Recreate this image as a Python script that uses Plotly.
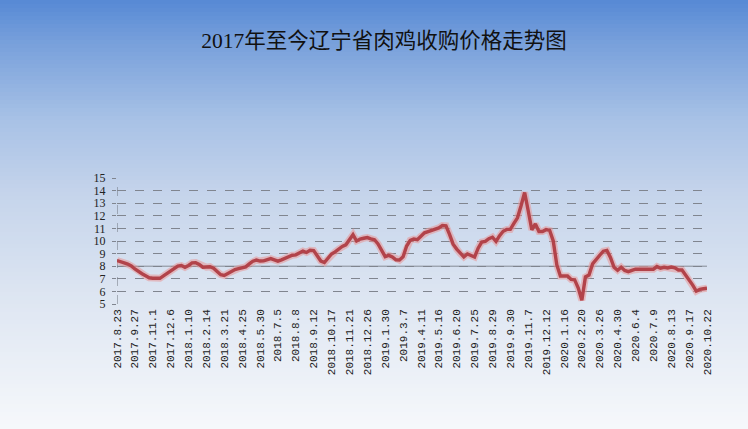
import plotly.graph_objects as go

# ---------------- data ----------------
title_text = "2017年至今辽宁省肉鸡收购价格走势图"

tick_labels = [
    "2017.8.23", "2017.9.27", "2017.11.1", "2017.12.6", "2018.1.10", "2018.2.14",
    "2018.3.21", "2018.4.25", "2018.5.30", "2018.7.5", "2018.8.8", "2018.9.12",
    "2018.10.17", "2018.11.21", "2018.12.26", "2019.1.30", "2019.3.7", "2019.4.11",
    "2019.5.16", "2019.6.20", "2019.7.25", "2019.8.29", "2019.9.30", "2019.11.7",
    "2019.12.12", "2020.1.16", "2020.2.20", "2020.3.26", "2020.4.30", "2020.6.4",
    "2020.7.9", "2020.8.13", "2020.9.17", "2020.10.22",
]
label_step = 5  # one label every 5 weekly observations

prices = [
    8.45, 8.38, 8.27, 8.17, 8.02, 7.78, 7.56, 7.40, 7.24, 7.08,
    7.04, 7.04, 7.04, 7.23, 7.43, 7.63, 7.83, 8.00, 8.05, 7.91,
    8.06, 8.26, 8.28, 8.14, 7.92, 7.92, 7.96, 7.84, 7.57, 7.33,
    7.26, 7.44, 7.61, 7.74, 7.81, 7.88, 7.95, 8.18, 8.40, 8.49,
    8.41, 8.42, 8.51, 8.60, 8.50, 8.40, 8.50, 8.64, 8.76, 8.87,
    8.90, 9.03, 9.20, 9.09, 9.26, 9.24, 8.87, 8.41, 8.29, 8.64,
    8.97, 9.14, 9.36, 9.57, 9.70, 10.10, 10.50, 10.00, 10.15, 10.22,
    10.27, 10.17, 10.10, 9.77, 9.32, 8.76, 8.86, 8.74, 8.50, 8.49,
    8.74, 9.60, 10.05, 10.15, 10.10, 10.37, 10.65, 10.75, 10.84, 10.91,
    11.04, 11.23, 11.20, 10.52, 9.75, 9.36, 9.01, 8.74, 8.97, 8.87,
    8.73, 9.43, 9.91, 9.97, 10.18, 10.30, 9.97, 10.42, 10.77, 10.92,
    10.92, 11.39, 11.84, 12.80, 13.85, 12.40, 10.89, 11.36, 10.75, 10.75,
    10.90, 10.84, 10.00, 8.10, 7.22, 7.22, 7.22, 6.95, 6.91, 6.27,
    5.30, 7.15, 7.30, 8.18, 8.56, 8.87, 9.19, 9.25, 8.70, 7.92,
    7.68, 7.92, 7.66, 7.57, 7.67, 7.76, 7.76, 7.76, 7.76, 7.76,
    7.76, 7.97, 7.84, 7.91, 7.86, 7.93, 7.87, 7.70, 7.70, 7.31,
    6.93, 6.50, 6.02, 6.16, 6.21, 6.25,
]

y_ticks = [5, 6, 7, 8, 9, 10, 11, 12, 13, 14, 15]

# ---------------- figure ----------------
W, H = 748, 429
ML, MR, MT, MB = 117, 41, 178, 125
PW, PH = W - ML - MR, H - MT - MB

x_idx = list(range(len(prices)))
tick_pos = [i * label_step for i in range(len(tick_labels))]

fig = go.Figure()

# soft glow under the line
fig.add_trace(go.Scatter(
    x=x_idx, y=prices, mode="lines",
    line=dict(color="rgba(232,150,150,0.55)", width=7),
    hoverinfo="skip", showlegend=False,
))
fig.add_trace(go.Scatter(
    x=x_idx, y=prices, mode="lines",
    line=dict(color="#b2434a", width=3.4),
    showlegend=False,
))

# background vertical gradient over the whole figure (blue top -> near white bottom)
stops = [
    (0.00, (86, 137, 213)),
    (0.10, (120, 160, 219)),
    (0.28, (168, 194, 230)),
    (0.45, (197, 212, 235)),
    (0.70, (222, 230, 242)),
    (1.00, (246, 248, 251)),
]

def grad_color(t):
    for (t0, c0), (t1, c1) in zip(stops[:-1], stops[1:]):
        if t0 <= t <= t1:
            f = (t - t0) / (t1 - t0) if t1 > t0 else 0
            c = [round(a + (b - a) * f) for a, b in zip(c0, c1)]
            return "rgb(%d,%d,%d)" % tuple(c)
    return "rgb(%d,%d,%d)" % stops[-1][1]

def py_to_paper(py):  # figure pixel (from top) -> paper y
    return (H - MB - py) / PH

x_left = -ML / PW - 0.01
x_right = 1 + MR / PW + 0.01

shapes = []
band = 4
for k in range(0, H, band):
    t = (k + band / 2) / H
    shapes.append(dict(
        type="rect", xref="paper", yref="paper", layer="below",
        x0=x_left, x1=x_right,
        y0=py_to_paper(k + band + 0.6), y1=py_to_paper(k),
        line=dict(width=0), fillcolor=grad_color(t),
    ))

# Solid reference line at 8 and dashed vertical value axis
shapes.append(dict(type="line", xref="x", yref="y", x0=0, x1=len(prices) - 1,
                   y0=8, y1=8, line=dict(color="#858a94", width=1), layer="below"))
shapes.append(dict(type="line", xref="x", yref="y", x0=0, x1=0, y0=5, y1=15,
                   line=dict(color="#6f747e", width=1, dash="dash"), layer="below"))

fig.update_layout(
    width=W, height=H,
    margin=dict(l=ML, r=MR, t=MT, b=MB),
    paper_bgcolor="white",
    plot_bgcolor="rgba(0,0,0,0)",
    shapes=shapes,
    title=dict(
        text=title_text,
        x=384 / W, xanchor="center",
        y=1 - 40 / H, yanchor="middle",
        xref="container", yref="container",
        font=dict(family="Liberation Serif, Noto Sans CJK SC", size=21.5, color="#111111"),
    ),
    xaxis=dict(
        range=[0, len(prices) - 1],
        tickmode="array", tickvals=tick_pos, ticktext=tick_labels,
        tickangle=-90,
        tickfont=dict(family="Liberation Mono, DejaVu Sans Mono", size=11, color="#222222"),
        showgrid=False, zeroline=False, showline=False, ticks="",
        ticklabelstandoff=2,
    ),
    yaxis=dict(
        range=[5, 15],
        tickmode="array", tickvals=y_ticks,
        tickfont=dict(family="Liberation Serif, DejaVu Serif", size=12, color="#222222"),
        showgrid=True, gridcolor="#80858f", gridwidth=1, griddash="dash",
        zeroline=False, showline=False,
        ticks="outside", ticklen=4, tickcolor="#80858f",
        ticklabelstandoff=4,
    ),
)

fig.write_html(
    "out.html",
    config={"displayModeBar": False},
    post_script="document.body.style.margin='0';document.body.style.overflow='hidden';",
)
